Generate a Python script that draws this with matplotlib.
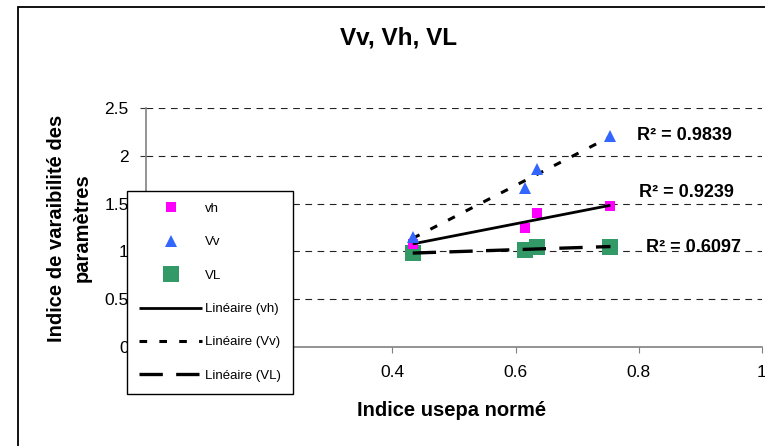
import numpy as np
import matplotlib
matplotlib.use("Agg")
import matplotlib.pyplot as plt
from matplotlib.patches import Rectangle

plt.rcParams['font.family'] = ['Liberation Sans', 'DejaVu Sans']

# values
x_usepa = [0.433, 0.615, 0.634, 0.754]
vh = [1.08, 1.245, 1.40, 1.475]
vv = [1.15, 1.66, 1.86, 2.21]
vl = [0.98, 1.01, 1.045, 1.045]
r2_labels = ["R² = 0.9839", "R² = 0.9239", "R² = 0.6097"]
x_ticks = [0.4, 0.6, 0.8, 1]
x_tick_labels = ["0.4", "0.6", "0.8", "1"]
y_ticks = [0, 0.5, 1, 1.5, 2, 2.5]
y_tick_labels = ["0", "0.5", "1", "1.5", "2", "2.5"]

W, H = 765, 446
fig = plt.figure(figsize=(W / 100, H / 100), dpi=100)
ax = fig.add_axes([146 / W, 1 - 347 / H, (762 - 146) / W, (347 - 108) / H])

# outer frame
fig.patches.append(Rectangle((18 / W, -0.2), 1.2, 1.2 - 7 / H,
                             transform=fig.transFigure, fill=False,
                             edgecolor='black', linewidth=1.3))

xs = np.array(x_usepa)


def trend(y):
    k, b = np.polyfit(xs, np.array(y), 1)
    xx = np.array([xs.min(), xs.max()])
    return xx, k * xx + b


# trend lines
tx, ty = trend(vh)
l_vh, = ax.plot(tx, ty, color='black', lw=2.0, solid_capstyle='butt', zorder=3)
tx, ty = trend(vv)
l_vv, = ax.plot(tx, ty, color='black', lw=2.2, linestyle=(0, (2.5, 4)), zorder=3)
tx, ty = trend(vl)
l_vl, = ax.plot(tx, ty, color='black', lw=2.4, linestyle=(0, (7, 4)), zorder=3)

# points
p_vl, = ax.plot(x_usepa, vl, 's', color='#339966', ms=11, mew=0, ls='none', zorder=2)
p_vh, = ax.plot(x_usepa, vh, 's', color='#FF00FF', ms=7, mew=0, ls='none', zorder=2)
p_vv, = ax.plot(x_usepa, vv, '^', color='#3366FF', ms=9, mew=0, ls='none', zorder=4)

ax.set_xlim(0, 1)
ax.set_ylim(0, 2.5)
ax.set_xticks(x_ticks)
ax.set_xticklabels(x_tick_labels)
ax.set_yticks(y_ticks)
ax.set_yticklabels(y_tick_labels)
ax.tick_params(axis='both', labelsize=12.5)
ax.tick_params(axis='x', direction='out', length=4, color='#808080', pad=9)
ax.tick_params(axis='y', direction='out', length=4.5, color='#333333', pad=8)

for yv in y_ticks[1:]:
    ax.axhline(yv, color='#222222', lw=0.8, linestyle=(0, (6, 5)), zorder=1)

for s in ['top', 'right']:
    ax.spines[s].set_visible(False)
for s in ['left', 'bottom']:
    ax.spines[s].set_color('#808080')
    ax.spines[s].set_linewidth(1.2)

# R² labels
ax.text(0.797, 2.215, r2_labels[0], fontsize=13, fontweight='bold', va='center')
ax.text(0.800, 1.62, r2_labels[1], fontsize=13, fontweight='bold', va='center')
ax.text(0.811, 1.04, r2_labels[2], fontsize=13, fontweight='bold', va='center')

fig.text(398 / W, 1 - 38 / H, "Vv, Vh, VL", fontsize=17.5, fontweight='bold',
         ha='center', va='center')
fig.text(452 / W, 1 - 410 / H, "Indice usepa normé", fontsize=14.5,
         fontweight='bold', ha='center', va='center')
fig.text(69 / W, 1 - 228 / H, "Indice de varaibilité des\nparamètres", fontsize=14.5,
         fontweight='bold', ha='center', va='center', rotation=90, linespacing=1.45)

leg = fig.legend([p_vh, p_vv, p_vl, l_vh, l_vv, l_vl],
                 ["vh", "Vv", "VL", "Linéaire (vh)", "Linéaire (Vv)", "Linéaire (VL)"],
                 loc='upper left', bbox_to_anchor=(127 / W, 1 - 191 / H),
                 fontsize=9.5, frameon=True, fancybox=False, framealpha=1,
                 edgecolor='black', handlelength=4.8, handletextpad=0.2,
                 borderpad=0.9, labelspacing=1.6, borderaxespad=0,
                 markerscale=1.0, numpoints=1)
leg.get_frame().set_linewidth(1.0)
leg.set_zorder(10)

fig.savefig("out.png", dpi=100)
